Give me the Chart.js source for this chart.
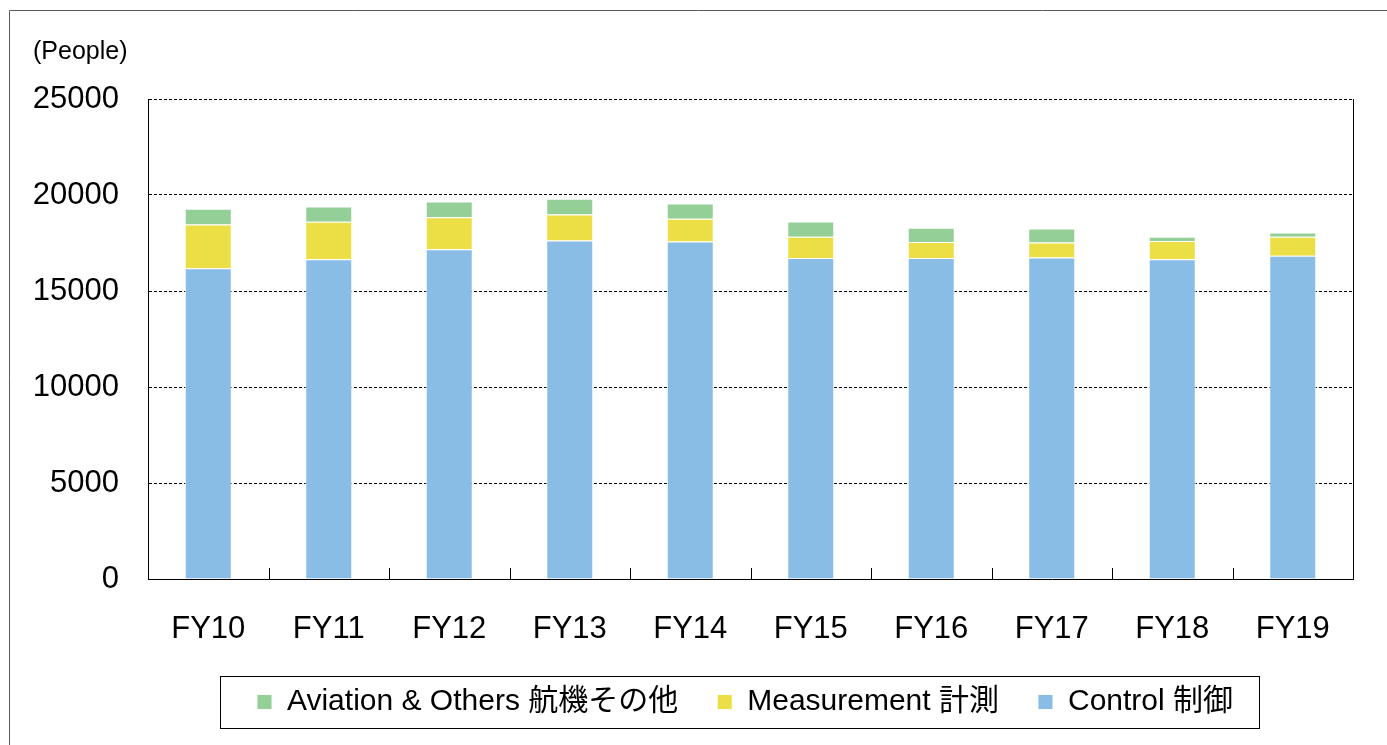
<!DOCTYPE html>
<html><head><meta charset="utf-8">
<script src="https://cdn.jsdelivr.net/npm/chart.js@4/dist/chart.umd.min.js"></script>
<style>html,body{margin:0;padding:0;background:#fff;}canvas{display:block;}</style>
</head><body>
<canvas id="c" width="1387" height="745"></canvas>
<script>
const categories = ['FY10','FY11','FY12','FY13','FY14','FY15','FY16','FY17','FY18','FY19'];
const controlValues = [16180,16650,17180,17630,17580,16720,16720,16750,16650,16840];
const measurementValues = [2280,1955,1660,1350,1180,1110,830,780,950,985];
const aviationValues = [830,795,815,830,795,795,745,725,230,225];
const seriesNames = ['Control 制御','Measurement 計測','Aviation & Others 航機その他'];
const yMin = 0, yMax = 25000, yStep = 5000;
const unitLabel = '(People)';

const FONT = "'Liberation Sans', 'Noto Sans CJK JP', sans-serif";
Chart.defaults.font.family = FONT;
Chart.defaults.color = '#000';

const LEGEND_SHIFT = -5.5;
const decor = {
  id: 'decor',
  afterLayout(chart) {
    const lg = chart.legend;
    if (lg) {
      lg.left += LEGEND_SHIFT; lg.right += LEGEND_SHIFT;
      (lg.legendHitBoxes || []).forEach(h => { h.left += LEGEND_SHIFT; });
    }
  },
  beforeDraw(chart) {
    const ctx = chart.ctx;
    ctx.save(); ctx.fillStyle = '#fff'; ctx.fillRect(0, 0, chart.width, chart.height); ctx.restore();
  },
  afterDraw(chart) {
    const ctx = chart.ctx, ca = chart.chartArea, xs = chart.scales.x;
    ctx.save();
    // outer frame
    ctx.strokeStyle = '#595959'; ctx.lineWidth = 1;
    ctx.beginPath(); ctx.moveTo(9.5, chart.height); ctx.lineTo(9.5, 10.5); ctx.lineTo(chart.width, 10.5); ctx.stroke();
    // unit label
    ctx.fillStyle = '#000'; ctx.font = '25px ' + FONT; ctx.textBaseline = 'middle'; ctx.textAlign = 'left';
    ctx.fillText(unitLabel, 33, 52);
    // x tick marks between categories (inward)
    ctx.strokeStyle = '#000'; ctx.beginPath();
    for (let i = 0; i < xs.ticks.length - 1; i++) {
      const px = Math.round((xs.getPixelForTick(i) + xs.getPixelForTick(i + 1)) / 2) + 0.5;
      ctx.moveTo(px, ca.bottom); ctx.lineTo(px, ca.bottom - 11);
    }
    ctx.stroke();
    // legend frame
    const hb = chart.legend.legendHitBoxes;
    if (hb && hb.length) {
      const l = Math.min(...hb.map(h => h.left)) - 37;
      const r = Math.max(...hb.map(h => h.left + h.width)) + 26;
      const cy = hb[0].top + hb[0].height / 2;
      ctx.strokeStyle = '#000';
      ctx.strokeRect(Math.round(l) + 0.5, Math.round(cy - 26) + 0.5, Math.round(r - l), 52);
    }
    ctx.restore();
  }
};

new Chart(document.getElementById('c'), {
  type: 'bar',
  data: {
    labels: categories,
    datasets: [
      { label: seriesNames[0], data: controlValues, backgroundColor: '#89BDE5' },
      { label: seriesNames[1], data: measurementValues, backgroundColor: '#ECDF45' },
      { label: seriesNames[2], data: aviationValues, backgroundColor: '#93CF97' }
    ].map(d => Object.assign(d, { borderColor: 'rgba(255,255,255,0.9)', borderWidth: 1, barPercentage: 0.39, categoryPercentage: 1 }))
  },
  options: {
    responsive: false,
    animation: false,
    devicePixelRatio: 1,
    layout: { padding: { left: 9, right: 34, top: 99, bottom: 18 } },
    plugins: {
      tooltip: { enabled: false },
      legend: {
        position: 'bottom',
        fullSize: false,
        reverse: true,
        labels: { boxWidth: 15, boxHeight: 15, padding: 39, font: { size: 30 }, color: '#000' }
      }
    },
    scales: {
      x: {
        stacked: true,
        grid: { drawOnChartArea: false, drawTicks: false },
        border: { display: true, color: '#000', width: 1 },
        ticks: { font: { size: 31 }, padding: 32, color: '#000' },
        afterFit: s => { s.height = 69; }
      },
      y: {
        stacked: true,
        min: yMin, max: yMax,
        grid: { color: '#000', lineWidth: 1, drawTicks: false },
        border: { display: true, color: '#000', width: 1, dash: [3, 2] },
        ticks: { stepSize: yStep, font: { size: 31 }, padding: 29, color: '#000', callback: v => String(v) },
        afterFit: s => { s.width = 139; }
      },
      y2: {
        position: 'right',
        min: yMin, max: yMax,
        grid: { drawOnChartArea: false, drawTicks: false },
        border: { display: true, color: '#000', width: 1 },
        ticks: { display: false },
        afterFit: s => { s.width = 0; }
      }
    }
  },
  plugins: [decor]
});
</script>
</body></html>
